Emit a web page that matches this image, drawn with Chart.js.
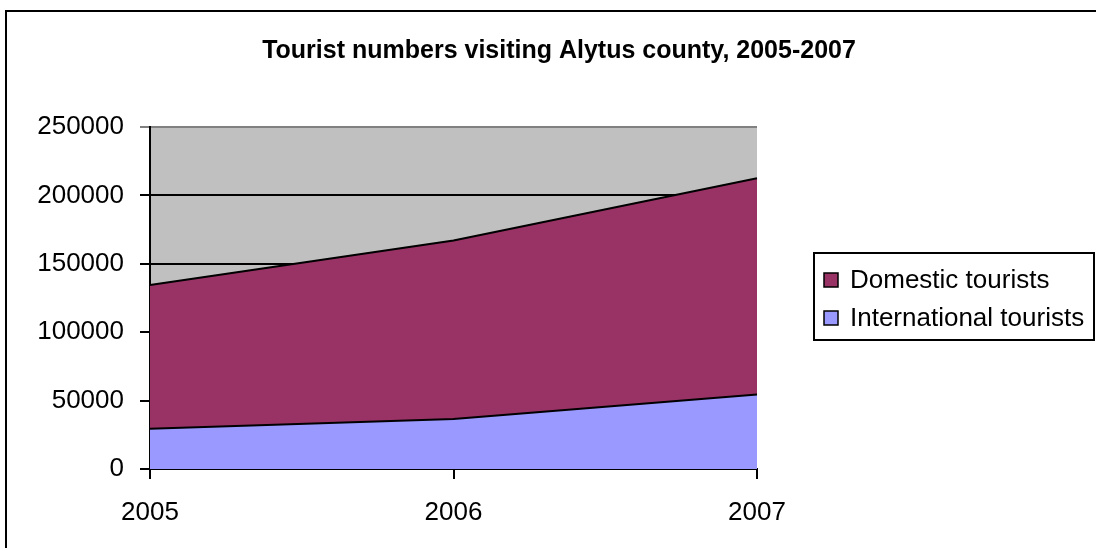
<!DOCTYPE html>
<html>
<head>
<meta charset="utf-8">
<script src="https://cdn.jsdelivr.net/npm/chart.js@4"></script>
<style>
  html, body { margin: 0; padding: 0; background: #fff; }
  #wrap { position: relative; width: 1096px; height: 548px; }
</style>
</head>
<body>
<div id="wrap"><canvas id="chart" width="1096" height="548"></canvas></div>
<script>
const years = ['2005', '2006', '2007'];
const international = [29500, 36500, 54500];
const domestic = [105000, 130500, 158000];
const seriesNames = ['International tourists', 'Domestic tourists'];
const yTicks = [0, 50000, 100000, 150000, 200000, 250000];
const chartTitle = 'Tourist numbers visiting Alytus county, 2005-2007';

const FONT = "'Liberation Sans', Arial, sans-serif";

// grey plot background, drawn under the gridlines
const plotBackground = {
    id: 'plotBackground',
    beforeDraw(chart) {
        const { ctx, chartArea: a } = chart;
        ctx.save();
        ctx.fillStyle = '#c0c0c0';
        ctx.fillRect(a.left, a.top, a.right - a.left, a.bottom - a.top);
        ctx.restore();
    }
};

// outer frame, title across the whole frame, and the boxed legend
const frameAndLegend = {
    id: 'frameAndLegend',
    afterDraw(chart) {
        const ctx = chart.ctx;
        ctx.save();
        ctx.strokeStyle = '#000';
        ctx.lineWidth = 2;
        ctx.strokeRect(6, 11, 1100, 600);

        ctx.fillStyle = '#000';
        ctx.font = 'bold 25px ' + FONT;
        ctx.textAlign = 'center';
        ctx.textBaseline = 'middle';
        ctx.fillText(chartTitle, 559, 51);

        const bx = 814, by = 253, bw = 280, bh = 87;
        ctx.strokeRect(bx, by, bw, bh);

        // legend lists the top series first
        const order = [1, 0];
        ctx.font = '26px ' + FONT;
        ctx.textAlign = 'left';
        order.forEach((di, i) => {
            const ds = chart.data.datasets[di];
            const cy = by + 27 + i * 38;
            ctx.fillStyle = ds.backgroundColor;
            ctx.fillRect(824, cy - 7, 14, 14);
            ctx.lineWidth = 1.5;
            ctx.strokeStyle = '#000';
            ctx.strokeRect(824, cy - 7, 14, 14);
            ctx.fillStyle = '#000';
            ctx.fillText(ds.label, 850, cy + 1);
        });
        ctx.restore();
    }
};

new Chart(document.getElementById('chart'), {
    type: 'line',
    data: {
        labels: years,
        datasets: [
            {
                label: seriesNames[0],
                data: international,
                backgroundColor: '#9999ff',
                borderColor: '#000',
                borderWidth: 2,
                fill: 'origin',
                pointRadius: 0,
                tension: 0
            },
            {
                label: seriesNames[1],
                data: domestic,
                backgroundColor: '#993366',
                borderColor: '#000',
                borderWidth: 2,
                fill: '-1',
                pointRadius: 0,
                tension: 0
            }
        ]
    },
    options: {
        responsive: false,
        animation: false,
        layout: { padding: { left: 0, right: 339, top: 127, bottom: 0 } },
        plugins: {
            legend: { display: false },
            tooltip: { enabled: false },
            title: { display: false }
        },
        scales: {
            x: {
                offset: false,
                grid: {
                    drawOnChartArea: false,
                    color: '#000',
                    lineWidth: 2,
                    tickLength: 10
                },
                border: { color: '#000', width: 2 },
                ticks: {
                    color: '#000',
                    font: { family: FONT, size: 26 },
                    padding: 18,
                    maxRotation: 0
                },
                afterFit(scale) { scale.height = 79; }
            },
            y: {
                stacked: true,
                min: 0,
                max: 250000,
                afterBuildTicks(scale) {
                    scale.ticks = yTicks.map(v => ({ value: v }));
                },
                grid: {
                    color: ctx => ctx.tick && ctx.tick.value === 250000 ? '#808080' : '#000',
                    lineWidth: 2,
                    tickLength: 10
                },
                border: { color: '#000', width: 2 },
                ticks: {
                    color: '#000',
                    font: { family: FONT, size: 26 },
                    padding: 16,
                    callback: v => String(v)
                },
                afterFit(scale) { scale.width = 150; }
            }
        }
    },
    plugins: [plotBackground, frameAndLegend]
});
</script>
</body>
</html>
